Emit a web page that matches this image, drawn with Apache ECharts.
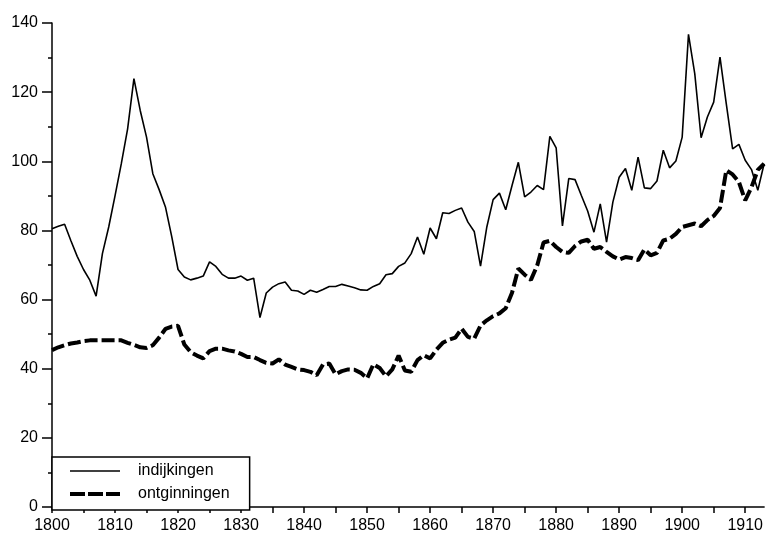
<!DOCTYPE html>
<html>
<head>
<meta charset="utf-8">
<script src="https://cdn.jsdelivr.net/npm/echarts@6/dist/echarts.min.js"></script>
<style>
html,body{margin:0;padding:0;background:#fff;}
#chart{width:766px;height:535px;}
</style>
</head>
<body>
<div id="chart"></div>
<script>
const startYear = 1800;
const indijkingen = [
 80.5, 81.2, 81.8, 77.0, 72.5, 68.7, 65.6, 61.0, 73.3, 81.0,
 90.0, 99.3, 109.4, 123.9, 114.7, 107.0, 96.4, 91.8, 86.8, 78.2,
 68.7, 66.5, 65.7, 66.2, 66.8, 70.9, 69.6, 67.3, 66.2, 66.2,
 66.8, 65.6, 66.2, 54.8, 61.9, 63.6, 64.6, 65.1, 62.7, 62.5,
 61.5, 62.7, 62.1, 62.9, 63.8, 63.8, 64.4, 63.9, 63.4, 62.8,
 62.7, 63.8, 64.6, 67.2, 67.5, 69.6, 70.6, 73.3, 78.1, 73.1,
 80.7, 77.6, 85.1, 84.9, 85.8, 86.5, 82.4, 79.7, 69.7, 81.0,
 88.9, 90.8, 86.0, 93.0, 99.7, 89.7, 91.1, 93.0, 91.8, 107.2,
 103.9, 81.3, 95.0, 94.7, 90.1, 85.6, 79.5, 87.7, 76.6, 88.2,
 95.4, 97.9, 91.6, 101.2, 92.3, 92.1, 94.3, 103.2, 98.1, 100.1,
 107.0, 136.7, 125.3, 106.8, 112.8, 117.1, 130.1, 116.6, 103.6, 104.9,
 100.3, 97.6, 91.6, 99.3
];
const ontginningen = [
 45.4, 46.2, 46.8, 47.3, 47.6, 48.0, 48.2, 48.2, 48.2, 48.2,
 48.2, 48.2, 47.5, 46.9, 46.2, 46.0, 46.8, 49.0, 51.5, 52.2,
 52.4, 47.0, 44.8, 43.8, 43.0, 45.1, 45.8, 45.8, 45.3, 45.0,
 44.3, 43.4, 43.4, 42.5, 41.7, 41.5, 42.7, 41.2, 40.5, 39.8,
 39.6, 39.1, 38.1, 41.2, 41.5, 38.4, 39.3, 39.8, 39.7, 38.8,
 37.2, 41.3, 40.2, 37.8, 39.8, 43.8, 39.5, 39.1, 42.5, 43.9,
 43.0, 45.5, 47.5, 48.4, 49.0, 51.6, 49.2, 48.7, 52.5, 54.0,
 55.2, 56.0, 57.5, 62.0, 69.0, 67.2, 65.7, 69.9, 76.5, 77.0,
 75.2, 73.8, 73.5, 75.5, 76.8, 77.3, 74.7, 75.2, 73.8, 72.5,
 71.6, 72.3, 72.0, 71.4, 74.5, 72.8, 73.5, 77.1, 77.6, 79.0,
 81.0, 81.5, 82.0, 81.2, 83.0, 84.2, 86.5, 97.4, 96.2, 94.0,
 88.7, 92.5, 97.5, 99.3
];
const seriesNames = ['indijkingen', 'ontginningen'];
const xTicks = [1800, 1810, 1820, 1830, 1840, 1850, 1860, 1870, 1880, 1890, 1900, 1910];
const yTicks = [0, 20, 40, 60, 80, 100, 120, 140];

const toPairs = arr => arr.map((v, i) => [startYear + i, v]);
const FONT = 'Liberation Sans, Arial, sans-serif';

const chart = echarts.init(document.getElementById('chart'), null, {renderer: 'canvas'});
chart.setOption({
  animation: false,
  backgroundColor: '#fff',
  grid: {left: 52, right: 0, top: 23, bottom: 28, containLabel: false},
  xAxis: {
    type: 'value',
    min: 1800, max: 1913, interval: 5,
    axisLine: {show: true, lineStyle: {color: '#000', width: 1.5}},
    axisTick: {show: true, inside: false, length: 6, lineStyle: {color: '#000', width: 1.5}},
    axisLabel: {
      margin: 11, color: '#000', fontSize: 16, fontFamily: FONT,
      formatter: v => xTicks.includes(v) ? String(v) : '',
      showMaxLabel: false
    },
    splitLine: {show: false}
  },
  yAxis: {
    type: 'value',
    min: 0, max: 140, interval: 20,
    axisLine: {show: true, lineStyle: {color: '#000', width: 1.5}},
    axisTick: {show: true, inside: false, length: 10, lineStyle: {color: '#000', width: 1.5}},
    minorTick: {show: true, splitNumber: 2, length: 4, lineStyle: {color: '#000', width: 1.5}},
    axisLabel: {
      margin: 14, color: '#000', fontSize: 16, fontFamily: FONT,
      formatter: v => yTicks.includes(v) ? String(v) : ''
    },
    splitLine: {show: false}
  },
  legend: {
    show: true,
    orient: 'vertical',
    left: 52, top: 457,
    data: [
      {name: seriesNames[0], lineStyle: {width: 1.6, type: 'solid', color: '#000'}},
      {name: seriesNames[1], lineStyle: {width: 4, type: [15, 3], color: '#000', cap: 'butt'}}
    ],
    itemWidth: 50, itemHeight: 14, itemGap: 7,
    padding: [6, 20, 8, 16],
    backgroundColor: '#fff',
    borderColor: '#000', borderWidth: 1.5,
    borderRadius: 0,
    itemStyle: {opacity: 0},
    textStyle: {color: '#000', fontSize: 16, fontFamily: FONT, padding: [0, 0, 0, 13]},
    z: 10
  },
  series: [
    {
      name: seriesNames[0], type: 'line', data: toPairs(indijkingen),
      showSymbol: false, symbol: 'none', smooth: false,
      lineStyle: {color: '#000', width: 1.6, type: 'solid'},
      itemStyle: {color: '#000'}
    },
    {
      name: seriesNames[1], type: 'line', data: toPairs(ontginningen),
      showSymbol: false, symbol: 'none', smooth: false,
      lineStyle: {color: '#000', width: 4, type: [13, 4], cap: 'butt'},
      itemStyle: {color: '#000'}
    }
  ]
});
</script>
</body>
</html>
